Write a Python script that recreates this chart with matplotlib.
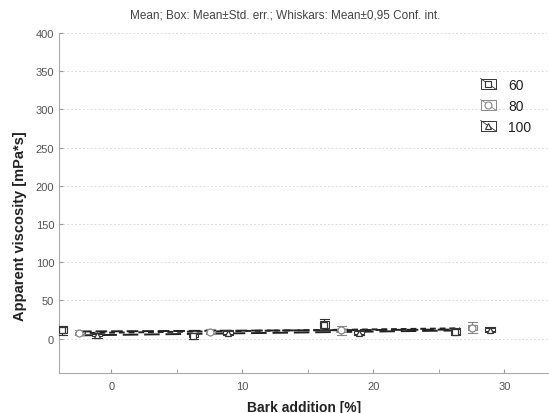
import matplotlib
matplotlib.use("Agg")
import matplotlib.pyplot as plt
import numpy as np
from matplotlib.patches import Rectangle
from matplotlib.lines import Line2D
from matplotlib.legend_handler import HandlerBase

plt.rcParams['font.family'] = ['Liberation Sans', 'DejaVu Sans']

bark = [0, 10, 20, 30]
series = ['60', '80', '100']
means = {
    '60':  [10.9, 4.0, 18.3, 9.0],
    '80':  [7.8, 9.0, 10.9, 14.3],
    '100': [4.3, 7.8, 7.8, 11.7],
}
stderr = {
    '60':  [4.0, 2.5, 4.5, 3.0],
    '80':  [1.5, 1.5, 2.0, 3.0],
    '100': [1.5, 2.0, 2.0, 2.0],
}
conf = {
    '60':  [6.0, 4.0, 7.0, 4.5],
    '80':  [3.0, 3.0, 6.0, 7.0],
    '100': [3.0, 3.5, 3.5, 3.0],
}

offsets = {'60': -3.75, '80': -2.45, '100': -1.1}
markers = {'60': 's', '80': 'o', '100': '^'}
colors = {'60': '#333333', '80': '#888888', '100': '#333333'}
dashes = {'60': (0, (6, 2)), '80': (0, (3, 2)), '100': (0, (8, 3))}

fig = plt.figure(figsize=(5.49, 4.14), dpi=100)
ax = fig.add_axes([0.1075, 0.0966, 0.8925, 0.8214])
ax.set_xlim(-4, 33.4)
ax.set_ylim(-45, 400)

bw = 0.7
for s in series:
    xs = np.array(bark) + offsets[s]
    m = np.array(means[s])
    k, b = np.polyfit(np.array(bark), m, 1)
    xl = np.array([-2.4, 26.6])
    ax.plot(xl, k * (xl - offsets[s]) + b, color='#222222', lw=1.4,
            linestyle=dashes[s], zorder=2)
    for x, mm, se, ci in zip(xs, m, stderr[s], conf[s]):
        c = colors[s]
        ax.add_patch(Rectangle((x - bw / 2, mm - se), bw, 2 * se,
                               facecolor='white', edgecolor=c, lw=0.8, zorder=3))
        ax.plot([x, x], [mm + se, mm + ci], color=c, lw=0.8, zorder=3)
        ax.plot([x, x], [mm - se, mm - ci], color=c, lw=0.8, zorder=3)
        ax.plot([x - bw / 2, x + bw / 2], [mm + ci, mm + ci], color=c, lw=0.8, zorder=3)
        ax.plot([x - bw / 2, x + bw / 2], [mm - ci, mm - ci], color=c, lw=0.8, zorder=3)
        ax.plot([x], [mm], marker=markers[s], ms=5, mfc='white', mec=c,
                mew=0.9, linestyle='none', zorder=4)


class BoxHandler(HandlerBase):
    def __init__(self, marker, color):
        super().__init__()
        self.marker = marker
        self.color = color

    def create_artists(self, legend, orig_handle, xdescent, ydescent, width,
                       height, fontsize, trans):
        r = Rectangle((-xdescent, -ydescent), width, height, facecolor='white',
                      edgecolor=self.color, lw=0.7, transform=trans)
        d = Line2D([-xdescent, -xdescent + width], [-ydescent + height, -ydescent],
                   color=self.color, lw=0.6, transform=trans)
        mk = Line2D([-xdescent + width / 2], [-ydescent + height / 2],
                    marker=self.marker, ms=5, mfc='white', mec=self.color,
                    mew=0.8, linestyle='none', transform=trans)
        return [r, d, mk]


handles = [Rectangle((0, 0), 1, 1) for _ in series]
hmap = {h: BoxHandler(markers[s], colors[s]) for h, s in zip(handles, series)}
ax.legend(handles, series, handler_map=hmap, loc='upper right',
          bbox_to_anchor=(0.99, 0.905), frameon=False, fontsize=10,
          handlelength=1.1, handleheight=0.8, handletextpad=0.9,
          labelspacing=0.5, labelcolor='#222222')

ax.set_yticks(np.arange(0, 401, 50))
ax.set_xticks([0, 10, 20, 30])
ax.set_xticks([5, 15, 25], minor=True)
ax.yaxis.grid(True, linestyle=(0, (2, 2)), color='#dddddd', lw=0.7)
ax.set_axisbelow(True)
for sp in ['top', 'right']:
    ax.spines[sp].set_visible(False)
for sp in ['left', 'bottom']:
    ax.spines[sp].set_color('#aaaaaa')
ax.tick_params(axis='both', which='both', direction='in', length=3,
               color='#999999', labelsize=8, labelcolor='#555555')
ax.tick_params(axis='x', pad=6)

ax.set_xlabel('Bark addition [%]', fontsize=10, fontweight='bold',
              color='#222222', labelpad=6)
ax.set_ylabel('Apparent viscosity [mPa*s]', fontsize=10.5, fontweight='bold',
              color='#222222')
ax.yaxis.set_label_coords(-0.066, 0.435)
fig.text(0.519, 0.962, 'Mean; Box: Mean±Std. err.; Whiskars: Mean±0,95 Conf. int.',
         fontsize=8.5, color='#444444', ha='center', va='center')

fig.savefig('out.png', dpi=100)
